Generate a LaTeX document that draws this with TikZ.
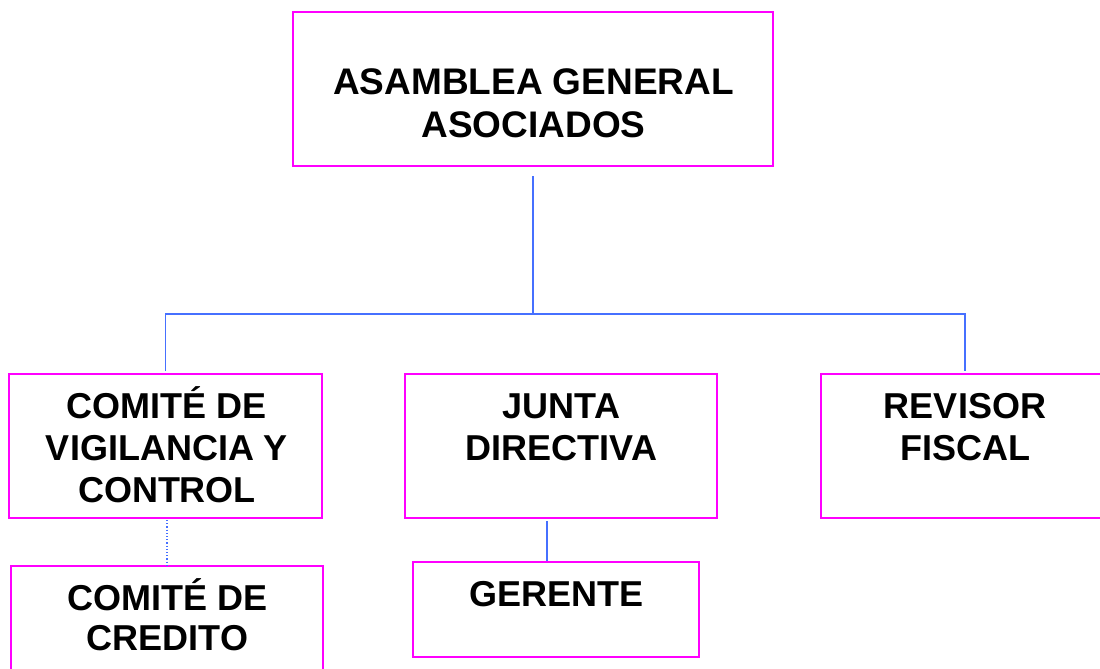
\documentclass[tikz,border=0pt]{standalone}
\usepackage{fontspec}
\setmainfont{Liberation Sans}
\definecolor{boxmag}{RGB}{255,0,255}
\definecolor{linkblue}{RGB}{70,112,255}
\newcommand\stk[1]{\begin{tabular}[t]{@{}c@{}}#1\end{tabular}}
\begin{document}
\begin{tikzpicture}[x=1pt,y=-1pt,
  box/.style={draw=boxmag, line width=2pt, inner sep=0pt, fill=none},
  lbl/.style={inner sep=0pt, anchor=base, font=\bfseries\fontsize{36}{42}\selectfont},
  conn/.style={draw=linkblue, line width=1.5pt},
  dotconn/.style={draw=linkblue, line width=1.2pt, dotted}]
\useasboundingbox (0,0) rectangle (1100,669);
\clip (0,0) rectangle (1100,669);
\fill[white] (0,0) rectangle (1100,669);
% boxes
\node[box, minimum width=480pt, minimum height=154pt] (top) at (533,89) {};
\node[box, minimum width=313pt, minimum height=144pt] (left) at (165.5,446) {};
\node[box, minimum width=312pt, minimum height=144pt] (mid) at (561,446) {};
\node[box, minimum width=288pt, minimum height=144pt] (right) at (965,446) {};
\node[box, minimum width=286pt, minimum height=95pt] (ger) at (556,609.5) {};
\node[box, minimum width=312pt, minimum height=120pt] (cred) at (167,626) {};
% labels
\node[lbl, font=\bfseries\fontsize{37}{43}\selectfont] (ttop) at (533.5,95) {\stk{ASAMBLEA GENERAL\\ASOCIADOS}};
\node[lbl] (tleft) at (167,418) {\stk{COMITÉ DE\\VIGILANCIA Y\\CONTROL}};
\node[lbl] (tmid) at (561.5,418) {\stk{JUNTA\\DIRECTIVA}};
\node[lbl] (tright) at (965,418) {\stk{REVISOR\\FISCAL}};
\node[lbl] (tger) at (556.5,606) {\stk{GERENTE}};
\node[lbl, font=\bfseries\fontsize{36}{40}\selectfont] (tcred) at (167.5,610) {\stk{COMITÉ DE\\CREDITO}};
% connectors
\coordinate (hbar) at (533,314);
\draw[conn] ([yshift=-9pt]top.south) -- (hbar);
\draw[conn] ([yshift=2pt]left.north) |- (hbar) -| ([yshift=2pt]right.north);
\draw[conn] ([xshift=-14pt,yshift=-2pt]mid.south) -- ([xshift=-9pt]ger.north);
\draw[dotconn] ([yshift=-1pt]cred.north |- left.south) -- (cred.north);
\end{tikzpicture}
\end{document}
